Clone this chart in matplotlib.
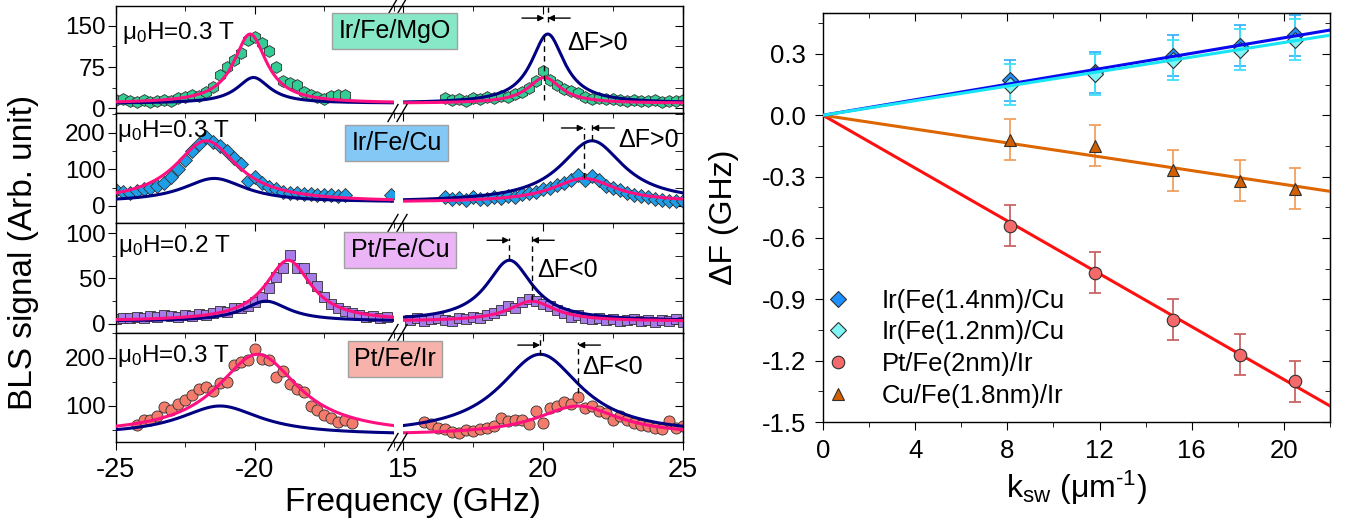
import matplotlib
matplotlib.use('Agg')
import matplotlib.pyplot as plt
import matplotlib.ticker as mticker
from matplotlib.lines import Line2D
import numpy as np

plt.rcParams['font.family'] = ['Liberation Sans', 'DejaVu Sans']
plt.rcParams['mathtext.fontset'] = 'custom'
plt.rcParams['mathtext.rm'] = 'Liberation Sans'
plt.rcParams['mathtext.it'] = 'Liberation Sans:italic'
plt.rcParams['axes.unicode_minus'] = False

# ---------------- left: BLS spectra (GHz, arb. unit) ----------------
p1_left_f = [-25.0, -24.75, -24.5, -24.25, -24.0, -23.75, -23.5, -23.25, -23.0, -22.75,
             -22.5, -22.25, -22.0, -21.75, -21.5, -21.25, -21.0, -20.75, -20.5, -20.25,
             -20.0, -19.75, -19.5, -19.25, -19.0, -18.75, -18.5, -18.25, -18.0, -17.75,
             -17.5, -17.25, -17.0, -16.75]
p1_left_s = [15, 16, 13, 12, 15, 12, 14, 15, 13, 18,
             20, 25, 22, 30, 38, 60, 75, 88, 100, 125,
             130, 118, 105, 75, 50, 46, 42, 30, 25, 20,
             17, 22, 25, 24]
p1_right_f = [16.5, 16.75, 17.0, 17.25, 17.5, 17.75, 18.0, 18.25, 18.5, 18.75,
              19.0, 19.25, 19.5, 19.75, 20.0, 20.25, 20.5, 20.75, 21.0, 21.25,
              21.5, 21.75, 22.0, 22.25, 22.5, 22.75, 23.0, 23.25, 23.5, 23.75,
              24.0, 24.25, 24.5, 24.75, 25.0]
p1_right_s = [18, 15, 17, 14, 18, 16, 20, 19, 22, 21,
              26, 30, 36, 50, 68, 52, 42, 35, 32, 28,
              20, 16, 18, 17, 16, 15, 14, 15, 13, 14,
              15, 12, 14, 13, 15]

p2_left_f = [-25.0, -24.75, -24.5, -24.25, -24.0, -23.75, -23.5, -23.25, -23.0, -22.75,
             -22.5, -22.25, -22.0, -21.75, -21.5, -21.25, -21.0, -20.75, -20.5, -20.25,
             -20.0, -19.75, -19.5, -19.25, -19.0, -18.75, -18.5, -18.25, -18.0, -17.75,
             -17.5, -17.25, -17.0, -16.75, -15.1]
p2_left_s = [42, 38, 35, 40, 45, 48, 55, 62, 80, 100,
             125, 150, 170, 188, 175, 165, 150, 130, 115, 68,
             78, 62, 52, 45, 38, 35, 35, 33, 32, 30,
             30, 29, 28, 30, 30]
p2_right_f = [16.5, 16.75, 17.0, 17.25, 17.5, 17.75, 18.0, 18.25, 18.5, 18.75,
              19.0, 19.25, 19.5, 19.75, 20.0, 20.25, 20.5, 20.75, 21.0, 21.25,
              21.5, 21.75, 22.0, 22.25, 22.5, 22.75, 23.0, 23.25, 23.5, 23.75,
              24.0, 24.25, 24.5, 24.75, 25.0]
p2_right_s = [25, 18, 22, 15, 25, 20, 18, 24, 22, 28,
              25, 32, 35, 38, 45, 50, 58, 62, 72, 85,
              70, 82, 70, 55, 50, 42, 36, 30, 27, 24,
              20, 16, 13, 12, 14]

p3_left_f = [-25.0, -24.75, -24.5, -24.25, -24.0, -23.75, -23.5, -23.25, -23.0, -22.75,
             -22.5, -22.25, -22.0, -21.75, -21.5, -21.25, -21.0, -20.75, -20.5, -20.25,
             -20.0, -19.75, -19.5, -19.25, -19.0, -18.75, -18.5, -18.25, -18.0, -17.75,
             -17.5, -17.25, -17.0, -16.75, -16.5, -16.25, -16.0, -15.75, -15.5, -15.25]
p3_left_s = [5, 7, 6, 8, 7, 9, 8, 10, 9, 8,
             10, 9, 11, 10, 12, 14, 13, 18, 17, 20,
             24, 30, 40, 52, 62, 76, 62, 62, 50, 42,
             30, 22, 17, 14, 12, 10, 8, 9, 7, 8]
p3_right_f = [15.25, 15.5, 15.75, 16.0, 16.25, 16.5, 16.75, 17.0, 17.25, 17.5,
              17.75, 18.0, 18.25, 18.5, 18.75, 19.0, 19.25, 19.5, 19.75, 20.0,
              20.25, 20.5, 20.75, 21.0, 21.25, 21.5, 21.75, 22.0, 22.25, 22.5,
              22.75, 23.0, 23.25, 23.5, 23.75, 24.0, 24.25, 24.5, 24.75, 25.0]
p3_right_s = [4, 6, 3, 5, 7, 4, 3, 6, 5, 8,
              7, 10, 12, 15, 20, 18, 24, 27, 25, 22,
              20, 15, 12, 8, 10, 7, 5, 6, 4, 5,
              3, 4, 5, 3, 4, 2, 4, 3, 5, 2]

p4_left_f = [-24.25, -24.0, -23.75, -23.5, -23.25, -23.0, -22.75, -22.5, -22.25, -22.0,
             -21.75, -21.5, -21.25, -21.0, -20.75, -20.5, -20.25, -20.0, -19.75, -19.5,
             -19.25, -19.0, -18.75, -18.5, -18.25, -18.0, -17.75, -17.5, -17.25, -17.0,
             -16.75, -16.5]
p4_left_s = [61, 70, 72, 80, 98, 92, 105, 112, 122, 135,
             140, 130, 148, 150, 185, 190, 196, 218, 198, 195,
             160, 172, 145, 135, 128, 100, 92, 82, 76, 66,
             72, 64]
p4_right_f = [15.75, 16.0, 16.25, 16.5, 16.75, 17.0, 17.25, 17.5, 17.75, 18.0,
              18.25, 18.5, 18.75, 19.0, 19.25, 19.5, 19.75, 20.0, 20.25, 20.5,
              20.75, 21.0, 21.25, 21.5, 21.75, 22.0, 22.25, 22.5, 22.75, 23.0,
              23.25, 23.5, 23.75, 24.0, 24.25, 24.5, 24.75, 25.0]
p4_right_s = [66, 62, 55, 52, 46, 45, 50, 48, 52, 55,
              58, 75, 68, 70, 72, 62, 90, 64, 95, 100,
              108, 104, 118, 95, 100, 90, 85, 72, 80, 70,
              64, 60, 58, 55, 52, 68, 55, 58]

# Lorentzian fit parameters
samples = ['Ir/Fe/MgO', 'Ir/Fe/Cu', 'Pt/Fe/Cu', 'Pt/Fe/Ir']
fields = ['0.3', '0.3', '0.2', '0.3']
peak_S = [-20.17, -21.75, -18.8, -19.9]
peak_AS = [20.05, 21.46, 19.6, 21.25]
amp_S = [126, 168, 67, 167]
amp_AS = [47, 65, 22, 60]
width = [0.72, 1.37, 1.0, 1.78]
background = [9, 10, 3, 40]
shift_sign = ['ΔF>0', 'ΔF>0', 'ΔF<0', 'ΔF<0']

# ---------------- right: frequency shift vs k_sw ----------------
k_sw = [8.1, 11.8, 15.2, 18.1, 20.5]
dF_IrFe14 = [0.17, 0.21, 0.29, 0.34, 0.39]
dF_IrFe12 = [0.15, 0.20, 0.27, 0.32, 0.37]
dF_PtFeIr = [-0.54, -0.77, -1.00, -1.17, -1.30]
dF_CuFeIr = [-0.12, -0.15, -0.27, -0.32, -0.36]
err_IrFe14 = [0.10, 0.10, 0.10, 0.10, 0.10]
err_IrFe12 = [0.10, 0.10, 0.10, 0.10, 0.10]
err_PtFeIr = [0.10, 0.10, 0.10, 0.10, 0.10]
err_CuFeIr = [0.10, 0.10, 0.10, 0.10, 0.10]
series_labels = ['Ir(Fe(1.4nm)/Cu', 'Ir(Fe(1.2nm)/Cu', 'Pt/Fe(2nm)/Ir', 'Cu/Fe(1.8nm)/Ir']

W, H = 1347, 523


def frac(x0, y0, x1, y1):
    return [x0 / W, 1 - y1 / H, (x1 - x0) / W, (y1 - y0) / H]


def lorentz(f, f0, amp, w, bg):
    return bg + amp / (1 + ((f - f0) / w) ** 2)


def fig_line(fig, xs, ys):
    fig.add_artist(Line2D([x / W for x in xs], [1 - y / H for y in ys],
                          transform=fig.transFigure, color='k', lw=1.0))


fig = plt.figure(figsize=(W / 100, H / 100), dpi=100)

row_edges = [6, 113, 223, 333, 442]
xl0, xl1, xr0, xr1 = 115.7, 394, 403, 683
ylims = [(-8.6, 186), (-47, 254), (-10, 111), (25.5, 251)]
yticks = [[0, 75, 150], [0, 100, 200], [0, 50, 100], [100, 200]]
yminor = [37.5, 50, 25, 50]
data = [(p1_left_f, p1_left_s, p1_right_f, p1_right_s),
        (p2_left_f, p2_left_s, p2_right_f, p2_right_s),
        (p3_left_f, p3_left_s, p3_right_f, p3_right_s),
        (p4_left_f, p4_left_s, p4_right_f, p4_right_s)]
mstyle = [dict(marker='h', ms=8.5, mfc='#33cc95'),
          dict(marker='D', ms=7.5, mfc='#1f9ee8'),
          dict(marker='s', ms=7.5, mfc='#a77be8'),
          dict(marker='o', ms=8, mfc='#f37b6b')]
box_colors = ['#86e8c6', '#84c9f6', '#ebb4f7', '#f7b3ab']
box_xy = [(394.5, 31), (396.5, 143), (400, 250), (395, 359)]
field_xy = [(122, 33), (117, 131), (118, 246), (117, 356)]
shift_xy = [(567, 43), (618, 140), (537, 270), (582, 367)]
# dashed guide lines: (ymin, ymax) for line at AS peak and at mirrored S peak, arrow height
guides = [((15, 137), (157, 184), 164),
          ((76, 213), (180, 229), 213),
          ((26, 97), (70, 94), 92),
          ((127, 232), (206, 247), 226)]

navy = '#000080'
pink = '#ff1080'

for i in range(4):
    top, bot = row_edges[i], row_edges[i + 1]
    axL = fig.add_axes(frac(xl0, top, xl1, bot))
    axR = fig.add_axes(frac(xr0, top, xr1, bot))
    fl, sl, fr, sr = data[i]
    pS, pAS, aS, aAS, w, bg = peak_S[i], peak_AS[i], amp_S[i], amp_AS[i], width[i], background[i]

    axL.plot(fl, sl, linestyle='none', mec='#303030', mew=0.6, **mstyle[i], zorder=2)
    axR.plot(fr, sr, linestyle='none', mec='#303030', mew=0.6, **mstyle[i], zorder=2)

    fL = np.linspace(-25, -15, 300)
    fR = np.linspace(15, 25, 300)
    axL.plot(fL, lorentz(fL, -pAS, aAS, w, bg), color=navy, lw=2.2, zorder=3)
    axR.plot(fR, lorentz(fR, -pS, aS, w, bg), color=navy, lw=2.2, zorder=3)
    axL.plot(fL, lorentz(fL, pS, aS, w, bg), color=pink, lw=2.2, zorder=4)
    axR.plot(fR, lorentz(fR, pAS, aAS, w, bg), color=pink, lw=2.2, zorder=4)

    # frequency-shift guides
    (a0, a1), (b0, b1), ya = guides[i]
    axR.vlines(pAS, a0, a1, colors='k', linestyles=(0, (4, 3)), lw=1.0, zorder=5)
    axR.vlines(-pS, b0, b1, colors='k', linestyles=(0, (4, 3)), lw=1.0, zorder=5)
    lo, hi = min(pAS, -pS), max(pAS, -pS)
    arrow = dict(arrowstyle='-|>', color='k', lw=1.0, mutation_scale=9, shrinkA=0, shrinkB=0)
    axR.annotate('', xy=(lo, ya), xytext=(lo - 0.8, ya), arrowprops=arrow)
    axR.annotate('', xy=(hi, ya), xytext=(hi + 0.8, ya), arrowprops=arrow)

    for ax in (axL, axR):
        ax.set_ylim(*ylims[i])
        ax.yaxis.set_major_locator(mticker.FixedLocator(yticks[i]))
        ax.yaxis.set_minor_locator(mticker.MultipleLocator(yminor[i]))
        ax.xaxis.set_minor_locator(mticker.MultipleLocator(2.5))
        for s in ax.spines.values():
            s.set_linewidth(1.0)
    axL.set_xlim(-25, -15)
    axR.set_xlim(15, 25)
    axL.set_xticks([-25, -20])
    axR.set_xticks([15, 20, 25])
    axL.spines['right'].set_visible(False)
    axR.spines['left'].set_visible(False)

    last = (i == 3)
    for ax in (axL, axR):
        ax.tick_params(axis='x', which='both', direction='out', bottom=last, labelbottom=last,
                       top=False, labelsize=19.5, pad=5)
        ax.tick_params(axis='x', which='major', length=6)
        ax.tick_params(axis='x', which='minor', length=3.5)
        sec = ax.secondary_xaxis('top')
        sec.set_xticks(ax.get_xticks())
        sec.xaxis.set_minor_locator(mticker.MultipleLocator(2.5))
        sec.tick_params(which='both', direction='in', labeltop=False)
        sec.tick_params(which='major', length=6)
        sec.tick_params(which='minor', length=3.5)
        sec.spines['top'].set_visible(False)
    axL.tick_params(axis='y', which='both', direction='out', labelsize=17.5, pad=1)
    axL.tick_params(axis='y', which='major', length=6)
    axL.tick_params(axis='y', which='minor', length=3)
    axR.tick_params(axis='y', which='both', left=False, labelleft=False)
    secy = axR.secondary_yaxis('right')
    secy.set_yticks(yticks[i])
    secy.yaxis.set_minor_locator(mticker.MultipleLocator(yminor[i]))
    secy.tick_params(which='both', direction='in', labelright=False)
    secy.tick_params(which='major', length=6)
    secy.tick_params(which='minor', length=6)

    # labels inside the panel
    fx, fy = field_xy[i]
    fig.text(fx / W, 1 - fy / H, r'μ$_0$H=' + fields[i] + ' T', fontsize=17.5,
             ha='left', va='center')
    bx, by = box_xy[i]
    fig.text(bx / W, 1 - by / H, samples[i], fontsize=18, ha='center', va='center',
             bbox=dict(boxstyle='square,pad=0.25', fc=box_colors[i], ec='#a0a0a0', lw=1))
    sx, sy = shift_xy[i]
    fig.text(sx / W, 1 - sy / H, shift_sign[i], fontsize=18, ha='left', va='center')

# bridge the spines over the break and draw the // marks
for y in row_edges:
    fig_line(fig, [xl1, xr0], [y, y])
    for cx in (xl1 - 1, xr0 - 1):
        fig_line(fig, [cx - 5, cx + 5], [y + 8.5, y - 8.5])

fig.text(24 / W, 1 - 252 / H, 'BLS signal (Arb. unit)', fontsize=24, rotation=90,
         ha='center', va='center')
fig.text(413 / W, 1 - 502 / H, 'Frequency (GHz)', fontsize=24, ha='center', va='center')

# ---------------- right panel ----------------
ax2 = fig.add_axes(frac(823, 13, 1330, 422))
kk = np.array(k_sw)
line_x = np.array([0, 22])
series = [
    (dF_IrFe14, err_IrFe14, 'D', 8, '#1e90ff', '#3cb4ff', '#0a0aee'),
    (dF_IrFe12, err_IrFe12, 'D', 8, '#7ff5f5', '#40e0f8', '#18e4f4'),
    (dF_PtFeIr, err_PtFeIr, 'o', 9, '#f46a6a', '#c86464', '#ff1010'),
    (dF_CuFeIr, err_CuFeIr, '^', 9, '#d45f00', '#f0a060', '#dd6600'),
]
handles = []
for j, (y, e, mk, ms, fc, ec, lc) in enumerate(series):
    y = np.array(y)
    slope = np.sum(kk * y) / np.sum(kk * kk)
    ax2.errorbar(k_sw, y, yerr=e, fmt='none', ecolor=ec, elinewidth=1.3,
                 capsize=4, capthick=1.3, zorder=2)
    line_z = 4 if mk == 'D' else 3
    ax2.plot(line_x, slope * line_x, color=lc, lw=2.2, zorder=line_z)
    h, = ax2.plot(k_sw, y, linestyle='none', marker=mk, ms=ms, mfc=fc, mec='#303030',
                  mew=0.8, zorder=3.5 if mk == 'D' else 5, label=series_labels[j])
    handles.append(h)

ax2.set_xlim(0, 22)
ax2.set_ylim(-1.5, 0.5)
ax2.set_xticks([0, 4, 8, 12, 16, 20])
ax2.xaxis.set_minor_locator(mticker.MultipleLocator(2))
yt = [-1.5, -1.2, -0.9, -0.6, -0.3, 0.0, 0.3]
ax2.set_yticks(yt)
ax2.set_yticklabels(['%.1f' % v for v in yt])
ax2.yaxis.set_minor_locator(mticker.MultipleLocator(0.15))
ax2.tick_params(which='both', direction='out', labelsize=18.5)
ax2.tick_params(axis='y', pad=6)
ax2.tick_params(axis='x', pad=6)
ax2.tick_params(which='major', length=6)
ax2.tick_params(which='minor', length=3.5)
for s in ax2.spines.values():
    s.set_linewidth(1.0)
secx = ax2.secondary_xaxis('top')
secx.set_xticks([0, 4, 8, 12, 16, 20])
secx.xaxis.set_minor_locator(mticker.MultipleLocator(2))
secx.tick_params(which='both', direction='in', labeltop=False)
secx.tick_params(which='major', length=6)
secx.tick_params(which='minor', length=3.5)
secy2 = ax2.secondary_yaxis('right')
secy2.set_yticks(yt)
secy2.yaxis.set_minor_locator(mticker.MultipleLocator(0.15))
secy2.tick_params(which='both', direction='in', labelright=False)
secy2.tick_params(which='major', length=6)
secy2.tick_params(which='minor', length=3.5)

ax2.set_ylabel('ΔF (GHz)', fontsize=23)
ax2.yaxis.set_label_coords(-0.165, 0.5)
ax2.set_xlabel('k$_{\\rm sw}$ (μm$^{\\rm \u20101}$)', fontsize=23, labelpad=4)

ax2.legend(handles=handles, loc='lower left', bbox_to_anchor=(0.005, 0.035), frameon=False,
           fontsize=18.5, handlelength=1.0, handletextpad=1.2, labelspacing=0.3,
           borderpad=0, borderaxespad=0)

fig.savefig('out.png', dpi=100)
